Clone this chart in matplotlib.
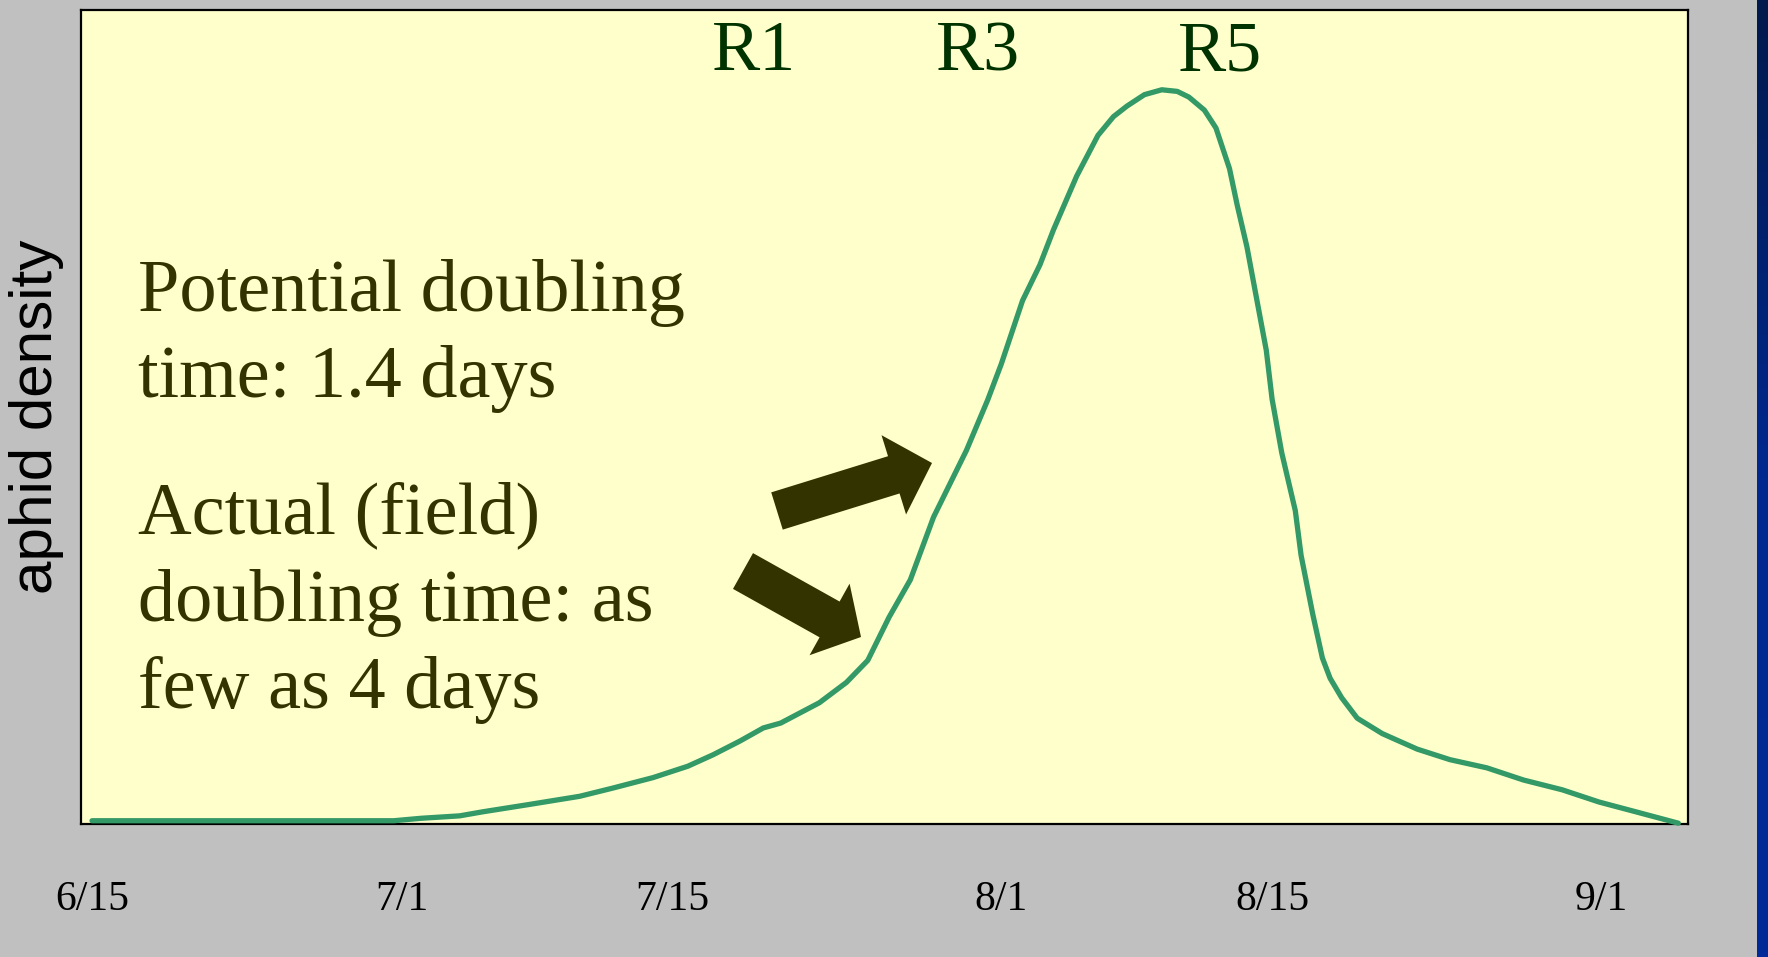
import numpy as np
import matplotlib
matplotlib.use("Agg")
import matplotlib.pyplot as plt
from matplotlib.patches import FancyArrow
from matplotlib.transforms import IdentityTransform
from matplotlib.colors import LinearSegmentedColormap

# ---- data (days after 6/15, relative aphid density) ----
days = [0, 15.6, 17.0, 19.0, 20.2, 22.6, 25.2, 26.9, 29.0, 30.8,
        32.1, 33.5, 34.7, 35.6, 37.6, 39.0, 40.1, 41.2, 42.3, 43.5,
        45.2, 46.3, 47.0, 48.1, 49.0, 49.7, 50.9, 52.0, 52.8, 53.5,
        54.4, 55.3, 56.1, 56.7, 57.5, 58.1, 58.8, 59.2, 59.7, 60.7,
        61.0, 61.5, 62.2, 62.5, 63.1, 63.6, 64.0, 64.6, 65.4, 66.7,
        68.5, 70.2, 72.1, 74.0, 76.0, 77.9, 79.8, 82.0]
density = [0.4, 0.4, 0.7, 1.0, 1.5, 2.4, 3.4, 4.4, 5.7, 7.1,
           8.5, 10.2, 11.8, 12.4, 14.9, 17.4, 20.1, 25.4, 30.0, 37.7,
           45.9, 52.1, 56.5, 64.3, 68.7, 73.0, 79.6, 84.6, 86.9, 88.2,
           89.6, 90.2, 90.0, 89.3, 87.7, 85.5, 80.5, 76.0, 70.9, 58.2,
           52.2, 45.6, 38.5, 33.0, 25.8, 20.4, 17.9, 15.5, 13.0, 11.1,
           9.2, 7.9, 6.9, 5.4, 4.2, 2.7, 1.5, 0.1]

tick_days = [0, 16, 30, 47, 61, 78]
tick_labels = ["6/15", "7/1", "7/15", "8/1", "8/15", "9/1"]

stage_labels = ["R1", "R3", "R5"]
stage_days = [34.2, 45.8, 58.3]

W, H = 1768, 957
fig = plt.figure(figsize=(W / 100, H / 100), dpi=100, facecolor="#C0C0C0")

# blue strip at right edge
sax = fig.add_axes([1757 / W, 0, 11 / W, 1])
cmap = LinearSegmentedColormap.from_list("b", ["#001A4D", "#00288F", "#002A99"])
sax.imshow(np.linspace(0, 1, 200).reshape(-1, 1), aspect="auto", cmap=cmap)
sax.axis("off")

ax = fig.add_axes([81 / W, 1 - 824 / H, (1688 - 81) / W, (824 - 10) / H])
ax.set_facecolor("#FFFFCC")
ax.plot(days, density, color="#339966", lw=3.8, solid_joinstyle="round",
        solid_capstyle="round", clip_on=False, zorder=3)
ax.set_xlim(-0.57, 82.5)
ax.set_ylim(0, 100)
for s in ax.spines.values():
    s.set_linewidth(1.6)
    s.set_color("black")

serif = ["Liberation Serif", "DejaVu Serif"]
ax.set_xticks(tick_days)
ax.set_xticklabels(tick_labels, fontfamily=serif, fontsize=30, color="black")
ax.tick_params(axis="x", length=0, pad=41)
ax.set_yticks([])

ax.set_ylabel("aphid density", fontfamily=["Liberation Sans", "DejaVu Sans"],
              fontsize=43.4, color="black", va="center")
ax.yaxis.set_label_coords(-0.0274, 0.5)

for lab, d in zip(stage_labels, stage_days):
    ax.text(d, 92.6, lab, ha="center", va="baseline", fontfamily=serif,
            fontsize=52, color="#003300")

txt_color = "#333300"
x0 = (138 - 81) / (1688 - 81)
lines = [("Potential doubling", 311), ("time: 1.4 days", 397),
         ("Actual (field)", 533), ("doubling time: as", 621), ("few as 4 days", 708)]
for t, yb in lines:
    ax.text(x0, (824 - yb) / 814, t, transform=ax.transAxes, ha="left",
            va="baseline", fontfamily=serif, fontsize=53.5, color=txt_color)

# arrows (pixel coordinates of the figure)
arrows = [((777, H - 511), (932, H - 463), 39, 83, 40),
          ((743, H - 571), (861, H - 637), 41, 82, 36)]
for (x1, y1), (x2, y2), w, hw, hl in arrows:
    a = FancyArrow(x1, y1, x2 - x1, y2 - y1, width=w, head_width=hw,
                   head_length=hl, length_includes_head=True,
                   transform=IdentityTransform(), color=txt_color, lw=0)
    fig.patches.append(a)

fig.savefig("out.png", dpi=100, facecolor=fig.get_facecolor())
